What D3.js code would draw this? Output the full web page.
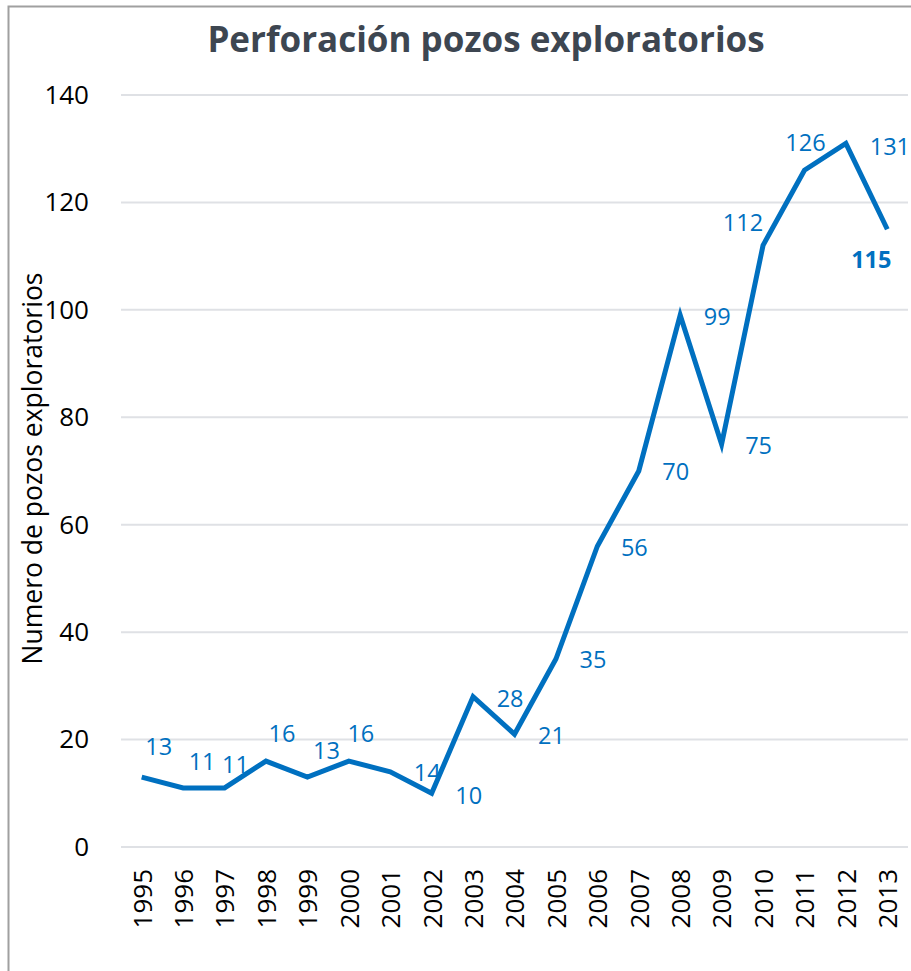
<!DOCTYPE html>
<html>
<head>
<meta charset="utf-8">
<title>Perforación pozos exploratorios</title>
<script src="https://d3js.org/d3.v7.min.js"></script>
<style>
    body { margin: 0; background: #fff; }
    svg text { font-family: "Open Sans", "Noto Sans", sans-serif; }
</style>
</head>
<body>
<svg id="chart" width="911" height="971"></svg>
<script>
    // data
    const years = ["1995", "1996", "1997", "1998", "1999", "2000", "2001", "2002", "2003", "2004",
                   "2005", "2006", "2007", "2008", "2009", "2010", "2011", "2012", "2013"];
    const wells = [13, 11, 11, 16, 13, 16, 14, 10, 28, 21, 35, 56, 70, 99, 75, 112, 126, 131, 115];
    const yTicks = [0, 20, 40, 60, 80, 100, 120, 140];

    // where each data label sits relative to its point (layout only)
    const labelDx = [17, 19, 11, 16, 19, 12, 37, 37, 37, 37, 37, 37, 37, 37, 37, -20, 1, 44, -16];
    const labelDy = [-31, -26, -23, -28, -27, -28, 1, 2, 2, 1, 1, 1, 1, 1, 1, -23, -28, 3, 30];

    const blue = "#0070c0";
    const svg = d3.select("#chart");

    // outer frame
    svg.append("rect")
        .attr("x", 8.5).attr("y", 6.5)
        .attr("width", 920).attr("height", 990)
        .attr("fill", "none")
        .attr("stroke", "#a0a0a0")
        .attr("stroke-width", 2);

    const plotLeft = 121, plotRight = 908, plotTop = 95, plotBottom = 847;

    const x = d3.scalePoint()
        .domain(years)
        .range([plotLeft, plotRight])
        .padding(0.5);

    const y = d3.scaleLinear()
        .domain([0, 140])
        .range([plotBottom, plotTop]);

    // title
    svg.append("text")
        .attr("x", 486).attr("y", 52)
        .attr("text-anchor", "middle")
        .attr("fill", "#3d4651")
        .style("font-size", "35px")
        .style("font-weight", "bold")
        .text("Perforación pozos exploratorios");

    // gridlines
    svg.append("g")
        .selectAll("line")
        .data(yTicks)
        .join("line")
        .attr("x1", plotLeft).attr("x2", plotRight)
        .attr("y1", d => y(d)).attr("y2", d => y(d))
        .attr("stroke", "#dfe1e5")
        .attr("stroke-width", 2);

    // y axis labels
    const yAxis = svg.append("g")
        .attr("transform", `translate(${plotLeft - 32},0)`)
        .call(d3.axisLeft(y).tickValues(yTicks).tickSize(0).tickPadding(0));
    yAxis.select(".domain").remove();
    yAxis.selectAll("text")
        .attr("fill", "#000")
        .style("font-size", "26px");

    // x axis labels, rotated
    const xAxis = svg.append("g")
        .attr("transform", `translate(0,${plotBottom + 22})`)
        .call(d3.axisBottom(x).tickSize(0).tickPadding(0));
    xAxis.select(".domain").remove();
    xAxis.selectAll("text")
        .attr("fill", "#000")
        .style("font-size", "26px")
        .attr("text-anchor", "end")
        .attr("transform", "rotate(-90)")
        .attr("x", 0)
        .attr("y", 0)
        .attr("dy", "0.36em");

    // y axis title
    svg.append("text")
        .attr("transform", `translate(42,${(265 + 672) / 2}) rotate(-90)`)
        .attr("text-anchor", "middle")
        .attr("fill", "#000")
        .style("font-size", "26.5px")
        .text("Numero de pozos exploratorios");

    // the line
    const line = d3.line()
        .x((d, i) => x(years[i]))
        .y(d => y(d));

    svg.append("path")
        .datum(wells)
        .attr("d", line)
        .attr("fill", "none")
        .attr("stroke", blue)
        .attr("stroke-width", 5)
        .attr("stroke-linejoin", "miter");

    // data labels
    svg.append("g")
        .selectAll("text")
        .data(wells)
        .join("text")
        .attr("x", (d, i) => x(years[i]) + labelDx[i])
        .attr("y", (d, i) => y(d) + labelDy[i])
        .attr("dy", "0.36em")
        .attr("text-anchor", "middle")
        .attr("fill", blue)
        .style("font-size", "23.5px")
        .style("font-weight", (d, i) => i === wells.length - 1 ? "bold" : "normal")
        .text(d => d);
</script>
</body>
</html>
